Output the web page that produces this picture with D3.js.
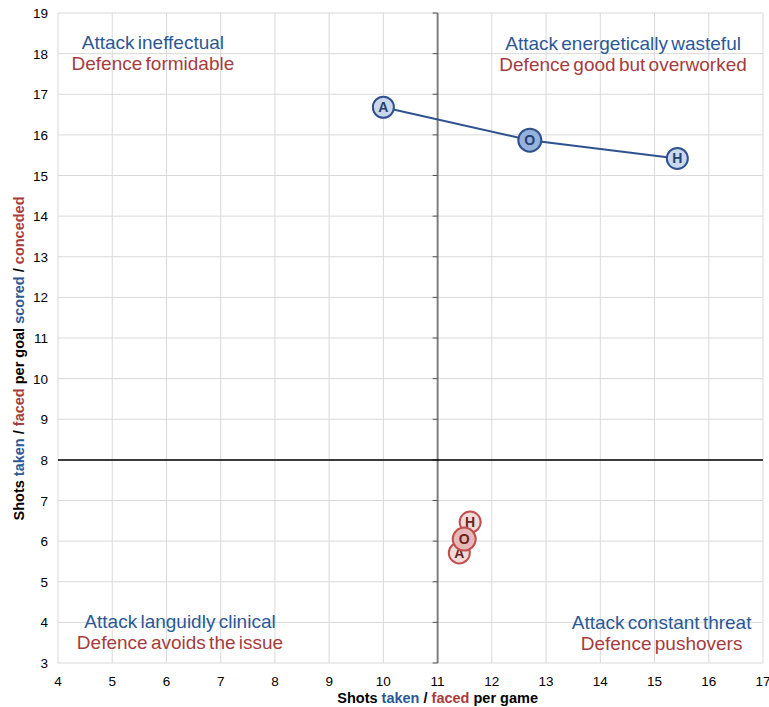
<!DOCTYPE html>
<html><head><meta charset="utf-8">
<script src="https://cdn.jsdelivr.net/npm/d3@7"></script>
<style>body{margin:0;background:#fff}svg{font-family:"Liberation Sans",Arial,sans-serif}</style>
</head><body>
<svg id="c" width="769" height="707"></svg>
<script>
const xTicks = [4,5,6,7,8,9,10,11,12,13,14,15,16,17];
const yTicks = [3,4,5,6,7,8,9,10,11,12,13,14,15,16,17,18,19];
const labels = ["A","O","H"];
const attackX = [10.0, 12.7, 15.42];
const attackY = [16.68, 15.87, 15.42];
const defenceX = [11.40, 11.49, 11.60];
const defenceY = [5.71, 6.05, 6.47];
const quadrants = [
  {a:"Attack ineffectual", d:"Defence formidable"},
  {a:"Attack energetically wasteful", d:"Defence good but overworked"},
  {a:"Attack languidly clinical", d:"Defence avoids the issue"},
  {a:"Attack constant threat", d:"Defence pushovers"}
];

const svg = d3.select("#c");
const L=58, R=763, T=13, B=663;
const x = d3.scaleLinear().domain([4,17]).range([L,R]);
const y = d3.scaleLinear().domain([3,19]).range([B,T]);
const BLUE="#2c5896", RED="#a63c3c";

// grid
svg.append("g").selectAll("line").data(xTicks).join("line")
  .attr("x1",d=>x(d)).attr("x2",d=>x(d)).attr("y1",T).attr("y2",B)
  .attr("stroke","#d9d9d9").attr("stroke-width",1);
svg.append("g").selectAll("line").data(yTicks).join("line")
  .attr("y1",d=>y(d)).attr("y2",d=>y(d)).attr("x1",L).attr("x2",R)
  .attr("stroke","#d9d9d9").attr("stroke-width",1);

// crossing axes
svg.append("line").attr("x1",x(11)).attr("x2",x(11)).attr("y1",T).attr("y2",B)
  .attr("stroke","#7f7f7f").attr("stroke-width",2);
svg.append("g").selectAll("line").data(yTicks).join("line")
  .attr("x1",x(11)-5).attr("x2",x(11)).attr("y1",d=>y(d)).attr("y2",d=>y(d))
  .attr("stroke","#555").attr("stroke-width",1);
svg.append("line").attr("x1",L).attr("x2",R).attr("y1",y(8)).attr("y2",y(8))
  .attr("stroke","#000").attr("stroke-width",1.5);

// tick labels
svg.append("g").selectAll("text").data(xTicks).join("text")
  .attr("x",d=>x(d)).attr("y",686).attr("text-anchor","middle")
  .attr("font-size",13.5).attr("fill","#000").text(d=>d);
svg.append("g").selectAll("text").data(yTicks).join("text")
  .attr("x",48).attr("y",d=>y(d)+5).attr("text-anchor","end")
  .attr("font-size",13.5).attr("fill","#000").text(d=>d);

// axis titles
const xt = svg.append("text").attr("x",x(11)).attr("y",703).attr("text-anchor","middle")
  .attr("font-size",14.5).attr("font-weight","bold");
[["Shots ","#000"],["taken",BLUE],[" / ","#000"],["faced",RED],[" per game","#000"]]
  .forEach(([t,c])=>xt.append("tspan").attr("fill",c).text(t));
const yt = svg.append("text").attr("transform",`translate(24,${(190+527)/2}) rotate(-90)`)
  .attr("text-anchor","middle").attr("font-size",14.5).attr("font-weight","bold");
[["Shots ","#000"],["taken",BLUE],[" / ","#000"],["faced",RED],[" per goal ","#000"],["scored",BLUE],[" / ","#000"],["conceded",RED]]
  .forEach(([t,c])=>yt.append("tspan").attr("fill",c).text(t));

// quadrant labels
const qpos = [[x(5.75),y(18.11)],[x(14.42),y(18.09)],[x(6.25),y(3.86)],[x(15.13),y(3.84)]];
quadrants.forEach((q,i)=>{
  const [cx,cy]=qpos[i];
  svg.append("text").attr("x",cx).attr("y",cy).attr("text-anchor","middle")
    .attr("font-size",19).attr("word-spacing",-2).attr("fill",BLUE).text(q.a);
  svg.append("text").attr("x",cx).attr("y",cy+21).attr("text-anchor","middle")
    .attr("font-size",19).attr("word-spacing",-2).attr("fill",RED).text(q.d);
});

// series
const atk = labels.map((l,i)=>({l,x:attackX[i],y:attackY[i]}));
const def = labels.map((l,i)=>({l,x:defenceX[i],y:defenceY[i]}));
svg.append("path").datum(atk)
  .attr("d",d3.line().x(d=>x(d.x)).y(d=>y(d.y)))
  .attr("fill","none").attr("stroke","#2f528f").attr("stroke-width",2);

function markers(data, stroke, fill, fillO, textCol){
  const order = data.slice().sort((a,b)=>(a.l==="O")-(b.l==="O"));
  const g = svg.append("g").selectAll("g").data(order).join("g")
    .attr("transform",d=>`translate(${x(d.x)},${y(d.y)})`);
  g.append("circle").attr("r",d=>d.l==="O"?11.5:10.5)
    .attr("fill",d=>d.l==="O"?fillO:fill).attr("stroke",stroke).attr("stroke-width",2);
  g.append("text").attr("text-anchor","middle").attr("dy",5).attr("font-size",14)
    .attr("font-weight","bold").attr("fill",textCol).text(d=>d.l);
}
markers(atk,"#2f528f","#c9d8ec","#95b1dc","#24426f");
markers(def,"#c0504d","#f2dcdb","#e6b9b8","#6b2323");
</script>
</body></html>
